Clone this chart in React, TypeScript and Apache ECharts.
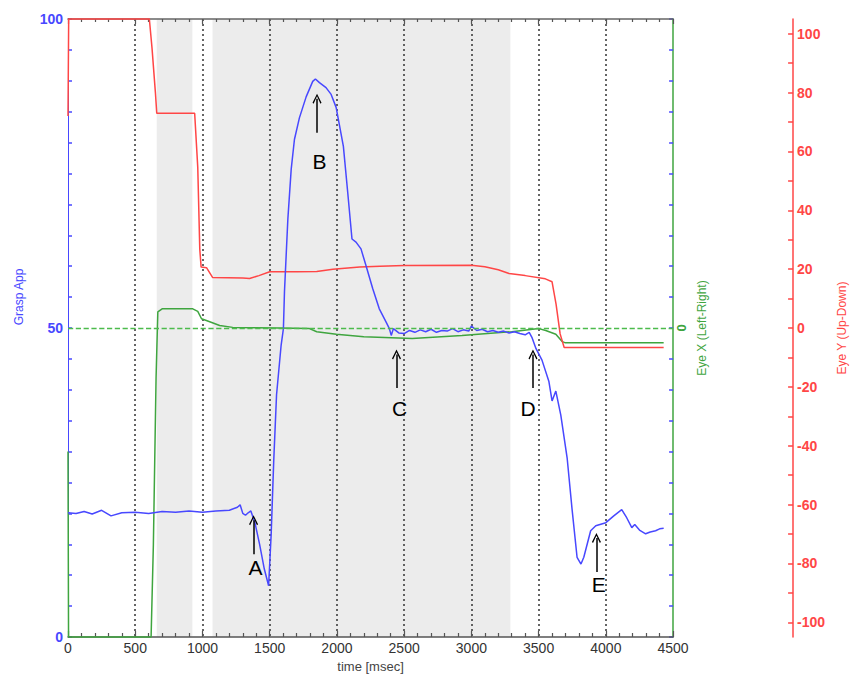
import React, { useEffect, useRef } from "react";
import * as echarts from "echarts";

// ---- Data ----
// Grasp aperture (left axis, 0..100)
const blueTimes = [0, 60, 120, 180, 250, 320, 400, 500, 600, 700, 800, 900, 1000, 1100, 1200, 1260, 1280, 1300, 1320, 1340, 1360, 1390, 1425, 1460, 1492, 1511, 1530, 1551, 1585, 1602, 1610, 1635, 1660, 1684, 1721, 1771, 1820, 1840, 1870, 1919, 1957, 1994, 2018, 2048, 2080, 2112, 2142, 2179, 2216, 2266, 2315, 2365, 2390, 2404, 2420, 2460, 2500, 2540, 2580, 2620, 2660, 2700, 2740, 2780, 2820, 2860, 2900, 2940, 2980, 3000, 3040, 3080, 3120, 3160, 3200, 3240, 3280, 3320, 3360, 3400, 3430, 3450, 3480, 3525, 3576, 3600, 3628, 3665, 3712, 3750, 3786, 3815, 3836, 3887, 3925, 4000, 4059, 4118, 4155, 4193, 4215, 4250, 4296, 4330, 4370, 4400, 4430];
const graspApp = [20.1, 20.0, 20.3, 19.9, 20.5, 19.6, 20.1, 20.2, 20.0, 20.3, 20.2, 20.4, 20.2, 20.4, 20.5, 21.0, 21.4, 20.0, 19.7, 20.1, 20.4, 18.5, 15.0, 11.0, 8.3, 16.6, 28.5, 39.2, 47.2, 49.9, 55.9, 67.6, 75.7, 80.5, 84.0, 87.4, 89.9, 90.3, 89.7, 88.9, 87.8, 85.7, 82.9, 79.4, 72.0, 64.4, 63.9, 62.8, 60.1, 56.4, 53.1, 51.0, 49.9, 48.8, 49.9, 49.2, 49.1, 49.6, 49.3, 49.7, 49.4, 49.8, 49.3, 49.6, 49.5, 49.9, 49.4, 49.7, 49.5, 50.3, 49.6, 49.8, 49.4, 49.6, 49.3, 49.5, 49.2, 49.4, 49.1, 48.9, 49.3, 48.5, 46.7, 44.8, 41.4, 38.2, 39.8, 35.9, 29.0, 20.4, 12.9, 11.8, 12.9, 17.2, 18.0, 18.5, 19.6, 20.6, 19.3, 17.7, 18.2, 17.3, 16.7, 17.0, 17.2, 17.5, 17.6];

// Eye X (Left-Right), green axis
const greenTimes = [0, 4, 618, 635, 655, 668, 700, 928, 965, 993, 1054, 1128, 1225, 1573, 1796, 1850, 1996, 2200, 2560, 2930, 3300, 3502, 3553, 3628, 3675, 3700, 4430];
const eyeX = [-20, -50, -50, -35, -8, 2.6, 3.1, 3.1, 2.7, 1.5, 1.0, 0.4, 0.1, 0.0, -0.1, -0.6, -1.0, -1.4, -1.7, -1.2, -0.6, -0.1, -0.4, -1.0, -2.2, -2.4, -2.4];

// Eye Y (Up-Down), red axis
const redTimes = [0, 5, 605, 625, 650, 660, 942, 965, 980, 990, 1030, 1075, 1300, 1350, 1420, 1500, 1700, 1850, 1970, 2170, 2320, 2500, 3000, 3100, 3200, 3280, 3400, 3550, 3600, 3630, 3660, 3690, 4430];
const eyeY = [72, 105, 105, 95, 80, 73, 73, 54.6, 26.8, 20.7, 20.5, 17.2, 17.0, 16.8, 17.8, 19.1, 19.1, 19.2, 20.0, 20.7, 21.0, 21.2, 21.3, 20.8, 19.8, 18.5, 17.8, 16.7, 15.7, 8, -2, -6.6, -6.6];

// Shaded intervals (msec)
const shadedStart = [660, 1075];
const shadedEnd = [925, 3290];

// Annotations: letter, time, arrow tail, arrow head, letter position (left-axis units)
const noteLetters = ["A", "B", "C", "D", "E"];
const noteArrowTime = [1380, 1852, 2443, 3458, 3930];
const noteArrowTail = [13.4, 81.6, 40.3, 40.3, 10.5];
const noteArrowHead = [18.9, 87.1, 45.7, 45.7, 16.0];
const noteLetterTime = [1395, 1870, 2466, 3421, 3947];
const noteLetterValue = [11.3, 77.0, 36.9, 36.9, 8.5];

// Tick values
const xMin = 0;
const xMax = 4500;
const xStep = 500;
const eyeYTicks = [-100, -90, -80, -70, -60, -50, -40, -30, -20, -10, 0, 10, 20, 30, 40, 50, 60, 70, 80, 90, 100];
const eyeYLabels = [-100, -80, -60, -40, -20, 0, 20, 40, 60, 80, 100];

const BLUE = "#4848ff";
const GREEN = "#3fa53f";
const RED = "#ff4646";
const FONT = "Arial, 'Liberation Sans', sans-serif";

const zip = (a: number[], b: number[]) => a.map((t, i) => [t, b[i]]);

export default function App() {
  const ref = useRef<HTMLDivElement>(null);

  useEffect(() => {
    if (!ref.current) return;
    const chart = echarts.init(ref.current, undefined, { renderer: "svg" });

    const arrowPath = "path://M5,0 L10,9 L8.8,10 L5,2.6 L1.2,10 L0,9 Z";

    const option: any = {
      animation: false,
      backgroundColor: "#ffffff",
      textStyle: { fontFamily: FONT },
      grid: { left: 68, right: 180, top: 19, bottom: 38, containLabel: false },
      xAxis: [
        {
          type: "value",
          min: xMin,
          max: xMax,
          interval: xStep,
          position: "bottom",
          z: 1,
          axisLine: { show: true, onZero: false, lineStyle: { color: "#555", width: 1.5 } },
          axisTick: { show: true, inside: true, length: 6, lineStyle: { color: "#555", width: 1.2 } },
          minorTick: { show: true, splitNumber: 5, length: 4, lineStyle: { color: "#555", width: 1.2 } },
          splitLine: {
            show: true,
            showMinLine: false,
            showMaxLine: false,
            lineStyle: { color: "#333", type: [2, 3], width: 1.5 },
          },
          axisLabel: {
            color: "#333",
            fontSize: 14,
            margin: 4,
            fontFamily: FONT,
            formatter: (v: number) => String(v),
          },
          name: "time [msec]",
          nameLocation: "middle",
          nameGap: 23,
          nameTextStyle: { color: "#444", fontSize: 13, fontFamily: FONT },
        },
        {
          type: "value",
          min: xMin,
          max: xMax,
          interval: xStep,
          position: "top",
          z: 1,
          axisLine: { show: true, onZero: false, lineStyle: { color: "#666", width: 1.5 } },
          axisTick: { show: true, inside: true, length: 5, lineStyle: { color: "#555", width: 1.2 } },
          minorTick: { show: true, splitNumber: 5, length: 3, lineStyle: { color: "#555", width: 1.2 } },
          splitLine: { show: false },
          axisLabel: { show: false },
        },
      ],
      yAxis: [
        {
          type: "value",
          min: 0,
          max: 100,
          interval: 50,
          position: "left",
          axisLine: { show: true, onZero: false, lineStyle: { color: BLUE, width: 1 } },
          axisTick: { show: true, inside: true, length: 4, lineStyle: { color: BLUE, width: 1.5 } },
          minorTick: { show: true, splitNumber: 10, length: 4, lineStyle: { color: BLUE, width: 1.5 } },
          splitLine: { show: false },
          axisLabel: { color: BLUE, fontSize: 14, fontWeight: "bold", margin: 5, fontFamily: FONT },
          name: "Grasp App",
          nameLocation: "middle",
          nameGap: 43,
          nameTextStyle: { color: BLUE, fontSize: 12, fontFamily: FONT, padding: [0, 0, 0, 62] },
        },
        {
          type: "value",
          min: -50,
          max: 50,
          interval: 50,
          position: "right",
          offset: 0,
          axisLine: { show: true, onZero: false, lineStyle: { color: GREEN, width: 1.5 } },
          axisTick: { show: false },
          splitLine: { show: false },
          axisLabel: {
            color: GREEN,
            fontSize: 13,
            fontWeight: "bold",
            margin: 2,
            rotate: 90,
            fontFamily: FONT,
            formatter: (v: number) => (v === 0 ? "0" : ""),
          },
          name: "Eye X (Left-Right)",
          nameLocation: "middle",
          nameGap: 16,
          nameRotate: 90,
          nameTextStyle: { color: GREEN, fontSize: 12, fontFamily: FONT },
        },
        {
          type: "value",
          min: 0,
          max: 100,
          interval: 5,
          position: "right",
          offset: 0,
          axisLine: { show: false, onZero: false },
          axisTick: { show: true, inside: true, length: 4, lineStyle: { color: BLUE, width: 1.5 } },
          splitLine: { show: false },
          axisLabel: { show: false },
        },
        {
          type: "value",
          min: -105,
          max: 105,
          position: "right",
          offset: 120,
          axisLine: { show: true, onZero: false, lineStyle: { color: RED, width: 1.5 } },
          axisTick: {
            show: true,
            inside: true,
            length: 5,
            customValues: eyeYTicks,
            lineStyle: { color: RED, width: 1.5 },
          },
          splitLine: { show: false },
          axisLabel: {
            color: RED,
            fontSize: 14,
            fontWeight: "bold",
            margin: 4,
            fontFamily: FONT,
            customValues: eyeYLabels,
          },
          name: "Eye Y (Up-Down)",
          nameLocation: "middle",
          nameGap: 38,
          nameRotate: 90,
          nameTextStyle: { color: RED, fontSize: 12, fontFamily: FONT },
        },
      ],
      series: [
        {
          name: "shade",
          type: "line",
          data: [],
          xAxisIndex: 0,
          yAxisIndex: 0,
          z: 0,
          silent: true,
          markArea: {
            silent: true,
            z: 0,
            itemStyle: { color: "#ececec" },
            data: shadedStart.map((s, i) => [{ xAxis: s }, { xAxis: shadedEnd[i] }]),
          },
        },
        {
          name: "Eye X",
          type: "line",
          xAxisIndex: 0,
          yAxisIndex: 1,
          data: zip(greenTimes, eyeX),
          showSymbol: false,
          clip: false,
          lineStyle: { color: GREEN, width: 1.5 },
          itemStyle: { color: GREEN },
          markLine: {
            silent: true,
            symbol: "none",
            label: { show: false },
            lineStyle: { color: "#4cbb4c", type: "dashed", width: 1.3 },
            data: [{ yAxis: 0, lineStyle: { color: "#4cbb4c", type: "dashed", width: 1.3 } }],
          },
        },
        {
          name: "Eye Y",
          type: "line",
          xAxisIndex: 0,
          yAxisIndex: 3,
          data: zip(redTimes, eyeY),
          showSymbol: false,
          clip: false,
          lineStyle: { color: RED, width: 1.5 },
          itemStyle: { color: RED },
        },
        {
          name: "Grasp App",
          type: "line",
          xAxisIndex: 0,
          yAxisIndex: 0,
          data: zip(blueTimes, graspApp),
          showSymbol: false,
          lineStyle: { color: BLUE, width: 1.5 },
          itemStyle: { color: BLUE },
          markLine: {
            silent: true,
            symbol: ["none", arrowPath],
            symbolSize: [9, 10],
            label: { show: false },
            lineStyle: { color: "#000", type: "solid", width: 1.5 },
            data: noteArrowTime.map((t, i) => [
              { coord: [t, noteArrowTail[i]] },
              { coord: [t, noteArrowHead[i]] },
            ]),
          },
          markPoint: {
            silent: true,
            symbol: "circle",
            symbolSize: 1,
            itemStyle: { color: "rgba(0,0,0,0)" },
            label: {
              show: true,
              position: "inside",
              color: "#000",
              fontSize: 21,
              fontFamily: FONT,
              formatter: (p: any) => p.name,
            },
            data: noteLetters.map((l, i) => ({
              name: l,
              coord: [noteLetterTime[i], noteLetterValue[i]],
            })),
          },
        },
      ],
    };

    chart.setOption(option);
    return () => chart.dispose();
  }, []);

  return (
    <div
      ref={ref}
      style={{ position: "absolute", left: 0, top: 0, width: 856, height: 678, background: "#fff" }}
    />
  );
}
